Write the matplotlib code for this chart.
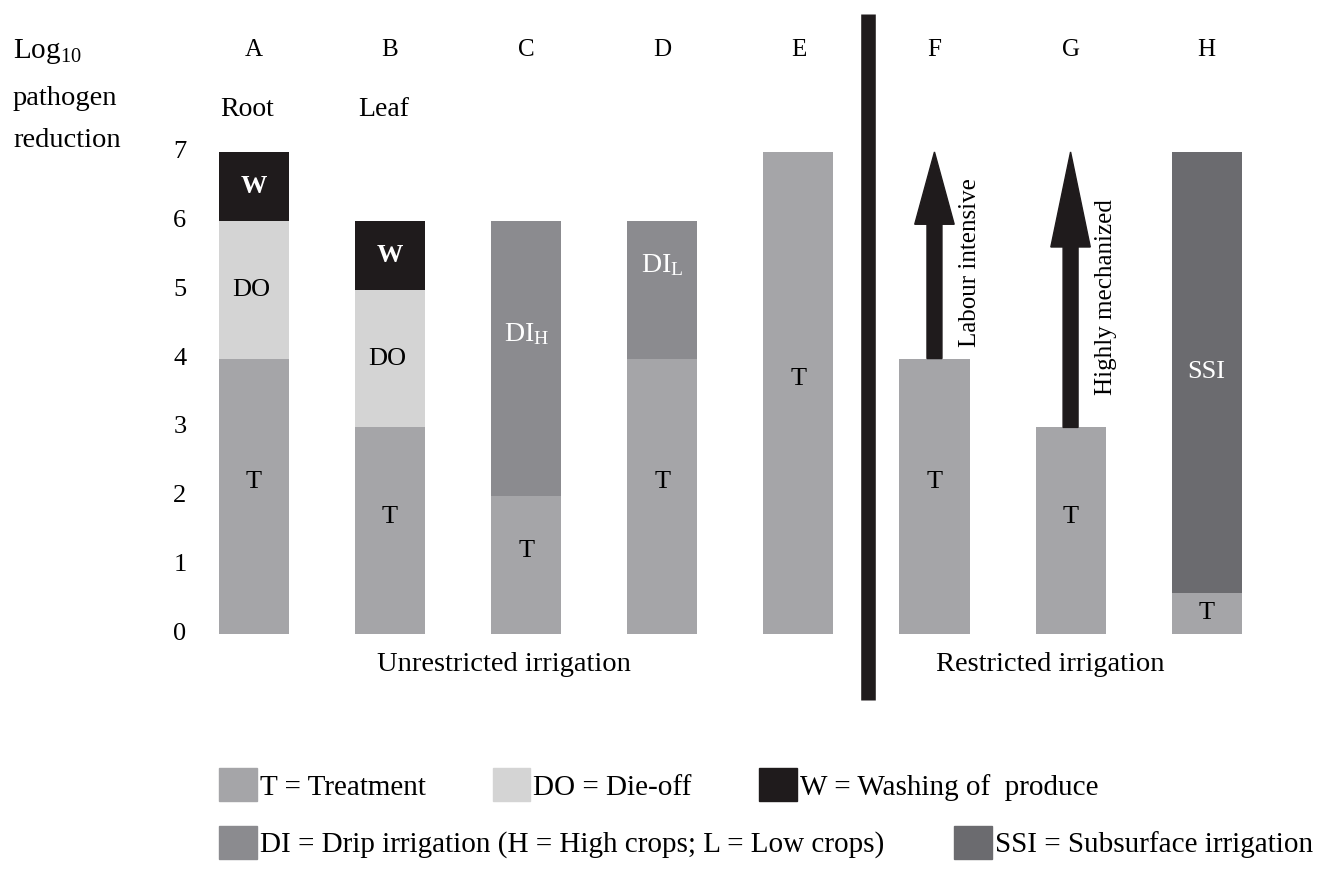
import matplotlib
matplotlib.use("Agg")
import matplotlib.pyplot as plt
from matplotlib.patches import Patch

plt.rcParams['font.family'] = ['Liberation Serif', 'DejaVu Serif']
plt.rcParams['mathtext.fontset'] = 'custom'
plt.rcParams['mathtext.rm'] = 'Liberation Serif'
plt.rcParams['mathtext.it'] = 'Liberation Serif:italic'

# data
categories = ['A', 'B', 'C', 'D', 'E', 'F', 'G', 'H']
crop_type = ['Root', 'Leaf', '', '', '', '', '', '']
treatment = [4, 3, 2, 4, 7, 4, 3, 0.6]
die_off = [2, 2, 0, 0, 0, 0, 0, 0]
drip = [0, 0, 4, 2, 0, 0, 0, 0]
subsurface = [0, 0, 0, 0, 0, 0, 0, 6.4]
washing = [1, 1, 0, 0, 0, 0, 0, 0]
drip_label = ['', '', r'$\mathrm{DI}_{\mathrm{H}}$', r'$\mathrm{DI}_{\mathrm{L}}$', '', '', '', '']
arrow_top = [0, 0, 0, 0, 0, 7, 7, 0]
arrow_text = ['', '', '', '', '', 'Labour intensive', 'Highly mechanized', '']
yticks = [0, 1, 2, 3, 4, 5, 6, 7]

c_t = '#a5a5a8'
c_do = '#d4d4d4'
c_w = '#1f1b1c'
c_di = '#8b8b8f'
c_ssi = '#6b6b6f'

fig = plt.figure(figsize=(13.18, 8.71), dpi=100)
ax = fig.add_axes([0, 0, 1, 1])
ax.set_xlim(-1.866, 7.818)
ax.set_ylim(-3.442, 9.207)
ax.axis('off')

x = list(range(len(categories)))
w = 0.515
b1 = treatment
b2 = [b1[i] + die_off[i] for i in x]
b3 = [b2[i] + drip[i] for i in x]
b4 = [b3[i] + subsurface[i] for i in x]
ax.bar(x, treatment, w, color=c_t)
ax.bar(x, die_off, w, bottom=b1, color=c_do)
ax.bar(x, drip, w, bottom=b2, color=c_di)
ax.bar(x, subsurface, w, bottom=b3, color=c_ssi)
ax.bar(x, washing, w, bottom=b4, color=c_w)

fs = 19
for i in x:
    off = 0.2 if treatment[i] >= 1 else 0
    ax.text(i, treatment[i] / 2 + off, 'T', ha='center', va='center', fontsize=fs)
    if die_off[i]:
        ax.text(i - 0.02, b1[i] + die_off[i] / 2, 'DO', ha='center', va='center', fontsize=fs)
    if drip[i]:
        ax.text(i, b2[i] + drip[i] / 2 + 0.35, drip_label[i], ha='center', va='center',
                fontsize=fs + 1, color='white')
    if subsurface[i]:
        ax.text(i, b3[i] + subsurface[i] / 2, 'SSI', ha='center', va='center',
                fontsize=fs, color='white')
    if washing[i]:
        ax.text(i, b4[i] + washing[i] / 2, 'W', ha='center', va='center', fontsize=fs,
                color='white', fontweight='bold')
    if arrow_top[i]:
        ax.arrow(i, treatment[i], 0, arrow_top[i] - treatment[i], width=0.11,
                 head_width=0.29, head_length=1.05 if i == 5 else 1.38,
                 length_includes_head=True, color=c_w)
        ax.text(i + 0.26, (treatment[i] + arrow_top[i]) / 2 - 0.1, arrow_text[i],
                rotation=90, ha='center', va='center', fontsize=18)
    ax.text(i, 8.48, categories[i], ha='center', va='center', fontsize=18)
    if crop_type[i]:
        ax.text(i - 0.05, 7.61, crop_type[i], ha='center', va='center', fontsize=20)

for t in yticks:
    ax.text(-0.544, t, str(t), ha='center', va='center', fontsize=19)

ax.text(-1.771, 8.46, r'$\mathrm{Log}_{10}$', ha='left', va='center', fontsize=21)
ax.text(-1.771, 7.78, 'pathogen', ha='left', va='center', fontsize=20.5)
ax.text(-1.771, 7.16, 'reduction', ha='left', va='center', fontsize=20.5)

ax.plot([4.51, 4.51], [-0.96, 9.0], color=c_w, lw=10.5, solid_capstyle='butt')
ax.text(1.84, -0.45, 'Unrestricted irrigation', ha='center', va='center', fontsize=20.5)
ax.text(5.85, -0.45, 'Restricted irrigation', ha='center', va='center', fontsize=20.5)

kw = dict(frameon=False, fontsize=21, handlelength=1.3, handleheight=1.37,
          handletextpad=0.1, borderpad=0, borderaxespad=0, loc='upper left')
h1 = [Patch(color=c_t, label='T = Treatment'),
      Patch(color=c_do, label='DO = Die-off'),
      Patch(color=c_w, label='W = Washing of  produce')]
h2 = [Patch(color=c_di, label='DI = Drip irrigation (H = High crops; L = Low crops)'),
      Patch(color=c_ssi, label='SSI = Subsurface irrigation')]
leg1 = fig.legend(handles=h1, ncol=3, columnspacing=2.3,
                  bbox_to_anchor=(0.166, 0.118), **kw)
leg2 = fig.legend(handles=h2, ncol=2, columnspacing=2.4,
                  bbox_to_anchor=(0.166, 0.052), **kw)

plt.savefig('out.png', dpi=100)
